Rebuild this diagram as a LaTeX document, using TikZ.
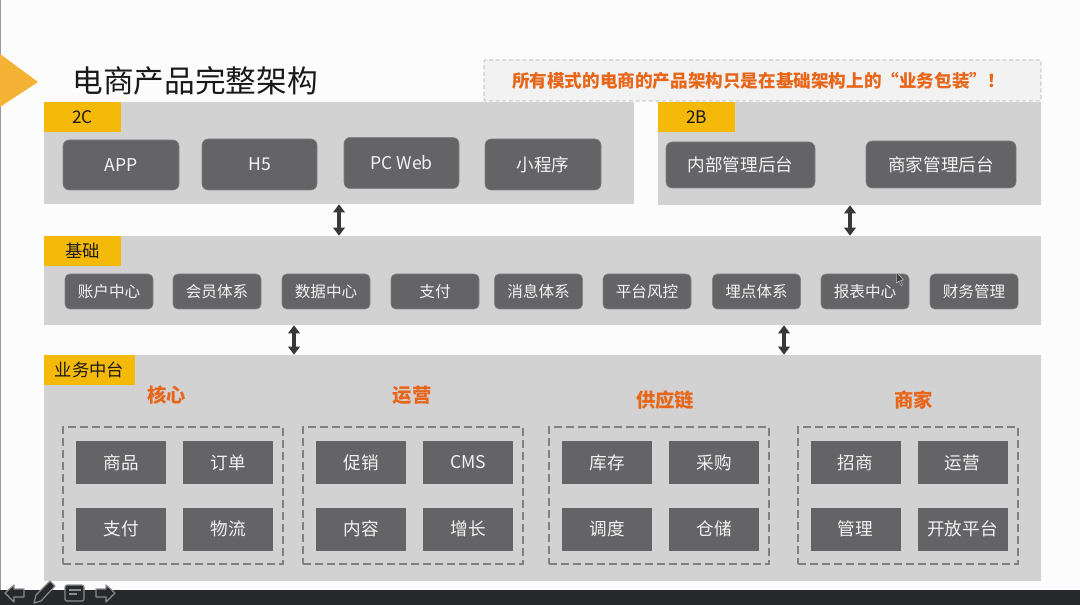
\documentclass[tikz,border=0pt]{standalone}
\usepackage{xcolor}
\usepackage{fontspec}
\setmainfont{Noto Sans CJK SC}
\definecolor{panel}{HTML}{D2D2D2}
\definecolor{tagfill}{HTML}{F5B90A}
\definecolor{boxfill}{HTML}{646466}
\definecolor{accent}{HTML}{E8661A}
\definecolor{marker}{HTML}{F5B335}
\definecolor{bar}{HTML}{26282B}
\definecolor{dashgray}{HTML}{808080}
\usetikzlibrary{arrows.meta,positioning,calc,fit}

\begin{document}
\begin{tikzpicture}[
  x=0.75pt, y=-0.75pt,
  sized/.style 2 args={minimum width=#1*0.75pt, minimum height=#2*0.75pt},
  panelbox/.style={fill=panel, inner sep=0pt},
  tagbox/.style={fill=tagfill, inner sep=0pt, text=black!90, font=\fontsize{13}{15}\selectfont},
  appbox/.style={fill=boxfill, draw=boxfill!80!white, line width=0.4pt, rounded corners=4.5pt, inner sep=0pt,
    text=white!95!black, font=\fontsize{13.2}{16}\selectfont},
  basebox/.style={appbox, rounded corners=3.5pt, sized={88}{35}, font=\fontsize{11.7}{14}\selectfont},
  corebox/.style={fill=boxfill, inner sep=0pt, sized={90}{43},
    text=white!95!black, font=\fontsize{13.2}{16}\selectfont},
  groupbox/.style={draw=dashgray, line width=0.9pt, dash pattern=on 6pt off 3pt, inner sep=0pt, sized={220}{137}},
  heading/.style={text=accent, font=\fontsize{14.5}{17}\selectfont\bfseries, inner sep=0pt},
  biarrow/.style={{Triangle[length=6pt,width=8.5pt]}-{Triangle[length=6pt,width=8.5pt]}, draw=black!78, line width=2.8pt}
]
  \useasboundingbox (0,0) rectangle (1080,605);
  \fill[white!99!black] (0,0) rectangle (1080,605);
  \fill[black!40] (0,0) rectangle (1,590);

  % title
  \fill[marker] (0,54) -- (38,82) -- (0,107) -- cycle;
  \node[inner sep=0pt, text=black!90, font=\fontsize{23}{27}\selectfont] (title) at (195,81) {电商产品完整架构};
  \node[fill=black!5, draw=black!32, densely dashed, line width=0.5pt, rounded corners=1pt, sized={557}{41},
    inner sep=0pt, text=accent, font=\fontsize{13.2}{15}\selectfont\bfseries] (banner) at (762.5,80.5)
    {所有模式的电商的产品架构只是在基础架构上的“业务包装”！\hspace*{6pt}};

  % 2C
  \node[panelbox, sized={590}{102}] (pc) at (339,153) {};
  \node[tagbox, sized={77}{30}] (tagc) at (82.5,117) {2C};
  \node[appbox, sized={116}{50}] (app) at (121,165) {APP};
  \node[appbox, sized={115}{51}] (hfive) at (259.5,164.5) {H5};
  \node[appbox, sized={115}{51}] (web) at (401.5,163) {PC Web};
  \node[appbox, sized={116}{51}] (mini) at (543,164.5) {小程序};

  % 2B
  \node[panelbox, sized={383}{103}] (pb) at (849.5,153.5) {};
  \node[tagbox, sized={77}{30}] (tagb) at (696.5,117) {2B};
  \node[appbox, sized={149}{46}] (inner) at (740.5,165) {内部管理后台};
  \node[appbox, sized={150}{47}] (shop) at (941,164.5) {商家管理后台};

  % base row
  \node[panelbox, sized={997}{89}] (pbase) at (542.5,280.5) {};
  \node[tagbox, sized={77}{30}] (tagbase) at (82.5,251) {基础};
  \node[basebox] (ba) at (109,291.5) {账户中心};
  \node[basebox] (bb) at (217,291.5) {会员体系};
  \node[basebox] (bc) at (326,291.5) {数据中心};
  \node[basebox] (bd) at (435,291.5) {支付};
  \node[basebox] (be) at (538.5,291.5) {消息体系};
  \node[basebox] (bf) at (647,291.5) {平台风控};
  \node[basebox] (bg) at (756.5,291.5) {埋点体系};
  \node[basebox] (bh) at (865,291.5) {报表中心};
  \node[basebox] (bi) at (974,291.5) {财务管理};

  % platform
  \node[panelbox, sized={997}{226}] (pmid) at (542.5,468) {};
  \node[tagbox, sized={91}{30}] (tagmid) at (89.5,370) {业务中台};

  \node[heading] (hcore) at (166.5,395) {核心};
  \node[groupbox] (gcore) at (173,495.5) {};
  \node[corebox] (ca) at (121,462.5) {商品};
  \node[corebox] (cb) at (228,462.5) {订单};
  \node[corebox] (cc) at (121,529) {支付};
  \node[corebox] (cd) at (228,529) {物流};

  \node[heading] (hops) at (412,395) {运营};
  \node[groupbox] (gops) at (413,495.5) {};
  \node[corebox] (oa) at (361,462.5) {促销};
  \node[corebox] (ob) at (468,462.5) {CMS};
  \node[corebox] (oc) at (361,529) {内容};
  \node[corebox] (od) at (468,529) {增长};

  \node[heading] (hsup) at (665,400) {供应链};
  \node[groupbox] (gsup) at (659,495.5) {};
  \node[corebox] (sa) at (607,462.5) {库存};
  \node[corebox] (sb) at (714,462.5) {采购};
  \node[corebox] (sc) at (607,529) {调度};
  \node[corebox] (sd) at (714,529) {仓储};

  \node[heading] (hmer) at (913.5,400) {商家};
  \node[groupbox] (gmer) at (908,495.5) {};
  \node[corebox] (ma) at (855.5,462.5) {招商};
  \node[corebox] (mb) at (962.5,462.5) {运营};
  \node[corebox] (mc) at (855.5,529) {管理};
  \node[corebox] (md) at (962.5,529) {开放平台};

  % connectors
  \draw[biarrow] (pc.south -| 339,0) -- (pbase.north -| 339,0);
  \draw[biarrow] (pb.south -| 850,0) -- (pbase.north -| 850,0);
  \draw[biarrow] (pbase.south -| 294,0) -- (pmid.north -| 294,0);
  \draw[biarrow] (pbase.south -| 784,0) -- (pmid.north -| 784,0);

  % pointer
  \fill[black!75, draw=white, line width=0.2pt] (896.5,272) -- (896.5,283) -- (899,281) -- (901,285.5) -- (902.5,285) -- (900.5,280.5) -- (903.5,280) -- cycle;

  % toolbar
  \fill[bar] (0,590) rectangle (1080,605);
  \draw[black!45, fill=bar, line width=0.9pt, line join=round]
    (5,593) -- (14,585) -- (14,589) -- (24,589) -- (24,597) -- (14,597) -- (14,602) -- cycle;
  \draw[black!45, fill=bar, line width=0.9pt, line join=round]
    (115,593) -- (106,585) -- (106,589) -- (96,589) -- (96,597) -- (106,597) -- (106,602) -- cycle;
  \draw[black!45, fill=bar, line width=0.9pt, line join=round]
    (34,603) -- (36,595) -- (50,581) -- (55,586) -- (41,601) -- cycle;
  \draw[black!45, fill=bar, line width=0.9pt, rounded corners=1.5pt] (65,585) rectangle (84,601);
  \draw[black!45, line width=1pt] (69,590) -- (81,590) (69,594) -- (77,594);
\end{tikzpicture}
\end{document}
